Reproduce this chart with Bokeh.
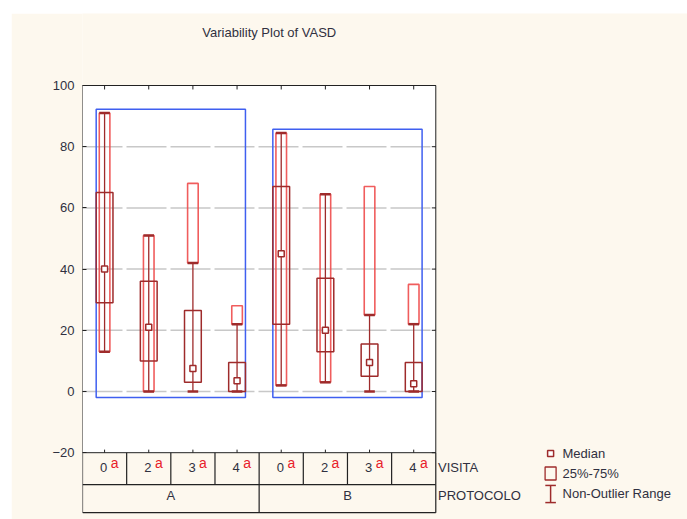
from bokeh.plotting import figure
from bokeh.models import Range1d, FixedTicker, ColumnDataSource, Label
from bokeh.core.properties import value
from bokeh.embed import file_html
from bokeh.resources import INLINE

# ---------------- data ----------------
protocols = ["A", "B"]
visits = ["0", "2", "3", "4", "0", "2", "3", "4"]
group_of = ["A", "A", "A", "A", "B", "B", "B", "B"]
medians = [40, 21, 7.5, 3.5, 45, 20, 9.5, 2.5]
q1 = [29, 10, 3, 0, 22, 13, 5, 0]
q3 = [65, 36, 26.5, 9.5, 67, 37, 15.5, 9.5]
whisk_lo = [13, 0, 0, 0, 2, 3, 0, 0]
whisk_hi = [91, 51, 42, 22, 84.5, 64.5, 25, 22]
outer_lo = [13, 0, 42, 22, 2, 3, 25, 22]
outer_hi = [91, 51, 68, 28, 84.5, 64.5, 67, 35]
y_ticks = [-20, 0, 20, 40, 60, 80, 100]
grid_vals = [0, 20, 40, 60, 80]

# ---------------- style ----------------
CREAM = "#fdf8ee"
DARK = "#9e2b2b"
LIGHT = "#ee4b4b"
BLUE = "#3f5ff0"
TXT = "#303040"
FONT = value("Liberation Sans")

n = len(visits)
xc = [i + 0.5 for i in range(n)]
BOX_W = 0.38
OUT_W = 0.24
ROW1 = -30.46
ROW2 = -39.6

p = figure(width=676, height=506, output_backend="svg", toolbar_location=None,
           x_range=Range1d(0, 13.70), y_range=Range1d(-41.83, 123.53),
           x_axis_location=None, min_border_left=71, min_border_right=0,
           min_border_top=0, min_border_bottom=0)
p.margin = (13, 0, 0, 11)
p.background_fill_color = CREAM
p.border_fill_color = CREAM
p.outline_line_color = None
p.grid.visible = False

ax = p.yaxis[0]
ax.ticker = FixedTicker(ticks=y_ticks)
ax.axis_line_color = None
ax.major_tick_in = 4
ax.major_tick_out = 0
ax.major_tick_line_color = "#222222"
ax.minor_tick_line_color = None
ax.major_label_text_font = "Liberation Sans"
ax.major_label_text_font_size = "13px"
ax.major_label_text_color = TXT
ax.major_label_standoff = 8

# plot area
p.quad(left=[0], right=[n], bottom=[y_ticks[0]], top=[y_ticks[-1]],
       fill_color="white", line_color=None)
p.segment(x0=[0] * len(grid_vals), x1=[n] * len(grid_vals), y0=grid_vals, y1=grid_vals,
          line_color="#c8c8c8", line_width=1.5, line_dash="40 4")

# group range boxes (blue)
for g in protocols:
    idx = [i for i in range(n) if group_of[i] == g]
    p.quad(left=[xc[idx[0]] - BOX_W / 2], right=[xc[idx[-1]] + BOX_W / 2],
           bottom=[min(whisk_lo[i] for i in idx) - 2],
           top=[max(outer_hi[i] for i in idx) + 1.2],
           fill_color=None, line_color=BLUE, line_width=1.5)

src = ColumnDataSource(dict(x=xc, med=medians, q1=q1, q3=q3, wlo=whisk_lo, whi=whisk_hi,
                            olo=outer_lo, ohi=outer_hi,
                            cl=[v - OUT_W / 2 for v in xc], cr=[v + OUT_W / 2 for v in xc]))

p.vbar(x="x", width=OUT_W, bottom="olo", top="ohi", source=src,
       fill_color=None, line_color=LIGHT, line_width=1.6, line_alpha=0.9)
p.segment(x0="x", x1="x", y0="wlo", y1="whi", source=src, line_color=DARK, line_width=1.3)
p.vbar(x="x", width=BOX_W, bottom="q1", top="q3", source=src,
       fill_color=None, line_color=DARK, line_width=1.5)
p.segment(x0="cl", x1="cr", y0="wlo", y1="wlo", source=src, line_color=DARK, line_width=2.5)
p.segment(x0="cl", x1="cr", y0="whi", y1="whi", source=src, line_color=DARK, line_width=2.5)
p.rect(x="x", y="med", width=6, height=6, width_units="screen", height_units="screen",
       source=src, fill_color="white", line_color=DARK, line_width=1.5)

# frame border and ticks
p.quad(left=[0], right=[n], bottom=[y_ticks[0]], top=[y_ticks[-1]],
       fill_color=None, line_color="#222222", line_width=1)
p.segment(x0=[n] * len(y_ticks), x1=[n - 0.09] * len(y_ticks), y0=y_ticks, y1=y_ticks,
          line_color="#222222", line_width=1)
p.segment(x0=xc, x1=xc, y0=[y_ticks[-1]] * n, y1=[y_ticks[-1] - 1.3] * n,
          line_color="#222222", line_width=1)
p.segment(x0=xc, x1=xc, y0=[y_ticks[0]] * n, y1=[y_ticks[0] + 1.0] * n,
          line_color="#222222", line_width=1)

# category table
p.segment(x0=[0, 0], x1=[n, n], y0=[ROW1, ROW2], y1=[ROW1, ROW2], line_color="#222222", line_width=1.2)
p.segment(x0=list(range(n + 1)), x1=list(range(n + 1)), y0=[y_ticks[0]] * (n + 1), y1=[ROW1] * (n + 1),
          line_color="#222222", line_width=1.2)
p.segment(x0=[0, n / 2, n], x1=[0, n / 2, n], y0=[ROW1] * 3, y1=[ROW2] * 3,
          line_color="#222222", line_width=1.2)

p.text(x=[v - 0.02 for v in xc], y=[-24.8] * n, text=visits, text_font=FONT,
       text_font_size="13px", text_color=TXT, text_align="center", text_baseline="middle")
p.text(x=[v + 0.14 for v in xc], y=[-23.3] * n, text=["a"] * n, text_font=FONT,
       text_font_size="14px", text_color="#e8202a", text_align="left", text_baseline="middle")
p.text(x=[n / 4, 3 * n / 4], y=[-34.0, -34.0], text=protocols, text_font=FONT,
       text_font_size="13px", text_color=TXT, text_align="center", text_baseline="middle")
p.text(x=[8.05, 8.05], y=[-24.8, -34.0], text=["VISITA", "PROTOCOLO"], text_font=FONT,
       text_font_size="13px", text_color=TXT, text_align="left", text_baseline="middle")

# title
p.text(x=[4.23], y=[117.3], text=["Variability Plot of VASD"], text_font=FONT,
       text_font_size="13px", text_color=TXT, text_align="center", text_baseline="middle")

# legend
p.rect(x=[10.6], y=[-20.3], width=6, height=6, width_units="screen", height_units="screen",
       fill_color="white", line_color=DARK, line_width=1.5)
p.rect(x=[10.6], y=[-26.8], width=11, height=13, width_units="screen", height_units="screen",
       fill_color=None, line_color=DARK, line_width=1.3)
p.segment(x0=[10.6, 10.48, 10.48], x1=[10.6, 10.72, 10.72], y0=[-30.7, -30.7, -36.3],
          y1=[-36.3, -30.7, -36.3], line_color=DARK, line_width=1.5)
p.text(x=[10.87] * 3, y=[-20.3, -26.8, -33.2], text=["Median", "25%-75%", "Non-Outlier Range"],
       text_font=FONT, text_font_size="13px", text_color=TXT, text_align="left",
       text_baseline="middle")

p.add_layout(Label(x=-0.79, y=30.7, text="VASD", text_font="Liberation Sans",
                   text_font_size="13px", text_color=TXT, text_align="center",
                   text_baseline="middle"))

open("out.html", "w").write(file_html(p, INLINE))
